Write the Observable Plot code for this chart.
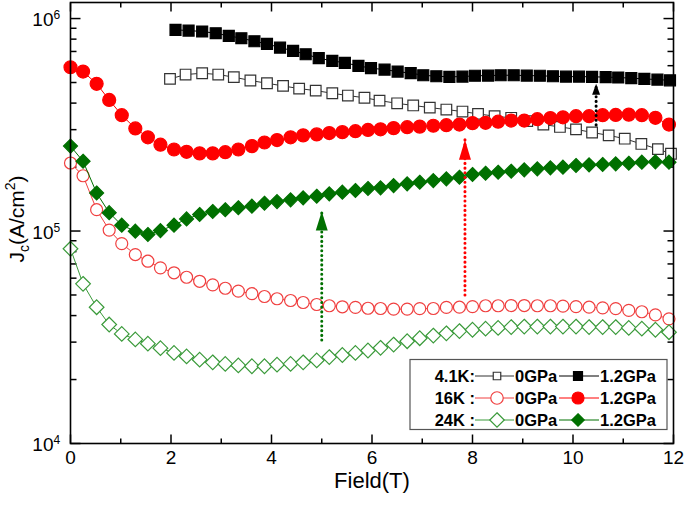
<!DOCTYPE html>
<html><head><meta charset="utf-8">
<script src="https://cdn.jsdelivr.net/npm/d3@7"></script>
<script src="https://cdn.jsdelivr.net/npm/@observablehq/plot@0.6"></script>
<style>body{margin:0;background:#fff}#chart svg{display:block}</style>
</head><body><div id="chart"></div>
<script>
// Field grid (T) shared by the 16K and 24K series
const fieldGrid = [0,0.25,0.52,0.77,1.02,1.29,1.54,1.79,2.06,2.31,2.57,2.83,3.08,3.34,3.61,3.86,4.11,4.38,4.63,4.9,5.15,5.41,5.67,5.92,6.17,6.43,6.7,6.95,7.22,7.48,7.74,8.0,8.26,8.51,8.77,9.03,9.29,9.55,9.8,10.06,10.32,10.59,10.85,11.11,11.37,11.64,11.91];
const jc16k_0 = [2.09e5,1.82e5,1.26e5,1.01e5,8.73e4,7.75e4,7.21e4,6.71e4,6.36e4,6.06e4,5.80e4,5.58e4,5.38e4,5.21e4,5.07e4,4.92e4,4.80e4,4.71e4,4.61e4,4.51e4,4.45e4,4.40e4,4.37e4,4.33e4,4.32e4,4.29e4,4.29e4,4.31e4,4.32e4,4.37e4,4.38e4,4.41e4,4.45e4,4.45e4,4.46e4,4.46e4,4.45e4,4.45e4,4.43e4,4.41e4,4.38e4,4.35e4,4.31e4,4.23e4,4.17e4,4.03e4,3.86e4];
const jc16k_12 = [5.90e5,5.63e5,4.93e5,4.14e5,3.51e5,3.04e5,2.76e5,2.55e5,2.42e5,2.36e5,2.32e5,2.32e5,2.35e5,2.42e5,2.51e5,2.61e5,2.68e5,2.76e5,2.82e5,2.85e5,2.89e5,2.92e5,2.95e5,2.99e5,3.01e5,3.05e5,3.08e5,3.10e5,3.13e5,3.15e5,3.17e5,3.22e5,3.23e5,3.27e5,3.31e5,3.31e5,3.36e5,3.40e5,3.43e5,3.47e5,3.47e5,3.51e5,3.52e5,3.53e5,3.51e5,3.41e5,3.17e5];
const jc24k_0 = [8.25e4,5.64e4,4.38e4,3.63e4,3.28e4,3.09e4,2.95e4,2.81e4,2.67e4,2.57e4,2.48e4,2.41e4,2.37e4,2.33e4,2.31e4,2.31e4,2.35e4,2.37e4,2.41e4,2.46e4,2.55e4,2.61e4,2.67e4,2.74e4,2.82e4,2.92e4,3.03e4,3.13e4,3.22e4,3.30e4,3.38e4,3.43e4,3.47e4,3.50e4,3.53e4,3.55e4,3.55e4,3.55e4,3.55e4,3.55e4,3.53e4,3.53e4,3.53e4,3.50e4,3.47e4,3.43e4,3.34e4];
const jc24k_12 = [2.51e5,2.13e5,1.51e5,1.22e5,1.065e5,9.98e4,9.63e4,1.005e5,1.065e5,1.14e5,1.196e5,1.236e5,1.259e5,1.287e5,1.309e5,1.351e5,1.376e5,1.402e5,1.433e5,1.458e5,1.497e5,1.523e5,1.551e5,1.585e5,1.597e5,1.637e5,1.668e5,1.697e5,1.728e5,1.760e5,1.791e5,1.845e5,1.871e5,1.891e5,1.912e5,1.941e5,1.962e5,1.984e5,1.997e5,2.034e5,2.049e5,2.056e5,2.071e5,2.085e5,2.108e5,2.117e5,2.108e5];
// 4.1K series
const field41k_0 = [1.98,2.29,2.62,2.94,3.25,3.58,3.91,4.23,4.55,4.88,5.21,5.52,5.85,6.15,6.5,6.82,7.15,7.48,7.8,8.11,8.44,8.77,9.09,9.41,9.74,10.06,10.38,10.71,11.03,11.36,11.69,11.95];
const jc41k_0 = [5.20e5,5.45e5,5.53e5,5.45e5,5.30e5,5.11e5,4.96e5,4.82e5,4.68e5,4.58e5,4.45e5,4.34e5,4.24e5,4.11e5,3.99e5,3.90e5,3.81e5,3.73e5,3.65e5,3.56e5,3.47e5,3.41e5,3.29e5,3.17e5,3.09e5,3.01e5,2.91e5,2.82e5,2.72e5,2.57e5,2.43e5,2.31e5];
const field41k_12 = [2.09,2.35,2.62,2.89,3.15,3.4,3.66,3.91,4.17,4.43,4.68,4.94,5.21,5.46,5.73,5.98,6.25,6.51,6.77,7.02,7.28,7.54,7.8,8.05,8.31,8.56,8.82,9.08,9.34,9.6,9.86,10.12,10.38,10.65,10.9,11.16,11.42,11.68,11.93];
const jc41k_12 = [8.85e5,8.78e5,8.69e5,8.53e5,8.29e5,8.08e5,7.82e5,7.60e5,7.30e5,7.05e5,6.79e5,6.51e5,6.32e5,6.19e5,5.99e5,5.84e5,5.75e5,5.63e5,5.53e5,5.41e5,5.35e5,5.32e5,5.33e5,5.38e5,5.39e5,5.41e5,5.41e5,5.39e5,5.38e5,5.35e5,5.33e5,5.33e5,5.32e5,5.30e5,5.28e5,5.24e5,5.20e5,5.16e5,5.12e5];
// dotted arrows
const arrowField = [5, 7.85, 10.46];
const arrowFrom = [3.05e4, 4.97e4, 3.14e5];
const arrowTo = [1.236e5, 2.69e5, 4.93e5];
// ticks
const xTickLabels = [0,2,4,6,8,10,12];
const xMinorTicks = [1,3,5,7,9,11];
const yTickExps = [4,5,6];
const yMinorTicks = [2e4,3e4,4e4,5e4,6e4,7e4,8e4,9e4,2e5,3e5,4e5,5e5,6e5,7e5,8e5,9e5];
const legendRows = ["4.1K:", "16K :", "24K :"];
const legendPressures = ["0GPa", "1.2GPa"];

const toRows = (xs, ys) => xs.map((x, i) => ({x, y: ys[i]}));

const series = [
  {data: toRows(field41k_0, jc41k_0), color: "#333333", symbol: "square", fill: "white", r: 6.0, row: 0, p: 0},
  {data: toRows(fieldGrid, jc16k_0), color: "#f04040", symbol: "circle", fill: "white", r: 6.0, row: 1, p: 0},
  {data: toRows(fieldGrid, jc24k_0), color: "#3a9a3a", symbol: "diamond2", fill: "white", r: 6.6, row: 2, p: 0},
  {data: toRows(field41k_12, jc41k_12), color: "#000000", symbol: "square", fill: "#000000", r: 6.2, row: 0, p: 1},
  {data: toRows(fieldGrid, jc16k_12), color: "#ff0000", symbol: "circle", fill: "#ff0000", r: 6.5, row: 1, p: 1},
  {data: toRows(fieldGrid, jc24k_12), color: "#007000", symbol: "diamond2", fill: "#007000", r: 6.3, row: 2, p: 1}
];
const arrowColors = ["#007000", "#ff0000", "#000000"];
const arrowHeads = [[12, 19], [12, 20], [8, 11]];

const seg = (dx, dy) => ({draw(ctx) { ctx.moveTo(0, 0); ctx.lineTo(dx, dy); }});
const head = (w, h) => ({draw(ctx) { ctx.moveTo(0, 0); ctx.lineTo(-w / 2, h); ctx.lineTo(w / 2, h); ctx.closePath(); }});

const FONT = "'Liberation Sans', Arial, sans-serif";
const marks = [];
marks.push(
  Plot.dot(xTickLabels, {x: d => d, frameAnchor: "bottom", symbol: seg(0, -9), stroke: "black", fill: "none", strokeWidth: 1.5}),
  Plot.dot(xMinorTicks, {x: d => d, frameAnchor: "bottom", symbol: seg(0, -5), stroke: "black", fill: "none", strokeWidth: 1.5}),
  Plot.dot(xTickLabels, {x: d => d, frameAnchor: "top", symbol: seg(0, 9), stroke: "black", fill: "none", strokeWidth: 1.5}),
  Plot.dot(xMinorTicks, {x: d => d, frameAnchor: "top", symbol: seg(0, 5), stroke: "black", fill: "none", strokeWidth: 1.5}),
  Plot.dot(yTickExps, {y: d => 10 ** d, frameAnchor: "left", symbol: seg(10, 0), stroke: "black", fill: "none", strokeWidth: 1.5}),
  Plot.dot(yMinorTicks, {y: d => d, frameAnchor: "left", symbol: seg(6, 0), stroke: "black", fill: "none", strokeWidth: 1.5}),
  Plot.dot(yTickExps, {y: d => 10 ** d, frameAnchor: "right", symbol: seg(-10, 0), stroke: "black", fill: "none", strokeWidth: 1.5}),
  Plot.dot(yMinorTicks, {y: d => d, frameAnchor: "right", symbol: seg(-6, 0), stroke: "black", fill: "none", strokeWidth: 1.5})
);
for (const s of series) {
  marks.push(Plot.line(s.data, {x: "x", y: "y", stroke: s.color, strokeWidth: 1}));
  marks.push(Plot.dot(s.data, {x: "x", y: "y", symbol: s.symbol, r: s.r, fill: s.fill, stroke: s.color, strokeWidth: 1.2}));
}
arrowField.forEach((f, i) => {
  const d = [{x: f, y1: arrowFrom[i], y2: arrowTo[i]}];
  marks.push(Plot.ruleX(d, {x: "x", y1: "y1", y2: "y2", stroke: arrowColors[i], strokeWidth: 3, strokeDasharray: "0.1 4.6", strokeLinecap: "round"}));
  marks.push(Plot.dot(d, {x: "x", y: "y2", symbol: head(arrowHeads[i][0], arrowHeads[i][1]), fill: arrowColors[i], stroke: "none"}));
});
marks.push(
  Plot.text(xTickLabels, {x: d => d, frameAnchor: "bottom", dy: 20.5, text: d => String(d), fontSize: 19, fill: "black"}),
  Plot.text(yTickExps, {y: d => 10 ** d, frameAnchor: "left", dx: -17, dy: 1.5, textAnchor: "end", text: () => "10", fontSize: 19, fill: "black"}),
  Plot.text(yTickExps, {y: d => 10 ** d, frameAnchor: "left", dx: -17, dy: -3, textAnchor: "start", text: d => String(d), fontSize: 12, fill: "black"}),
  Plot.text(["Field(T)"], {frameAnchor: "bottom", dy: 44, text: d => d, fontSize: 22, fill: "black"}),
  Plot.frame({stroke: "black", strokeWidth: 1.6})
);

const chart = Plot.plot({
  width: 685, height: 505,
  marginLeft: 70, marginRight: 12, marginTop: 2, marginBottom: 62,
  x: {domain: [0, 12], axis: null},
  y: {type: "log", domain: [1e4, 1.19e6], axis: null},
  style: {fontFamily: FONT, color: "black", background: "white", overflow: "visible"},
  marks
});
document.getElementById("chart").appendChild(chart);

const svg = d3.select(chart);
// y-axis title with sub/superscript
const yt = svg.append("text")
  .attr("transform", "translate(24,219) rotate(-90)")
  .attr("text-anchor", "middle")
  .style("font-family", FONT)
  .style("font-size", "21px").attr("fill", "black");
yt.append("tspan").text("J");
yt.append("tspan").attr("dy", 5).style("font-size", "14px").text("c");
yt.append("tspan").attr("dy", -5).text("(A/cm");
yt.append("tspan").attr("dy", -9).style("font-size", "14px").text("2");
yt.append("tspan").attr("dy", 9).text(")");

// legend
const lg = svg.append("g").style("font-family", FONT)
  .style("font-size", "16.5px").style("font-weight", "bold").attr("fill", "black");
lg.append("rect").attr("x", 410).attr("y", 359.5).attr("width", 257).attr("height", 70)
  .attr("fill", "white").attr("stroke", "#555").attr("stroke-width", 1.2);
const rowY = [376, 398, 420];
const legendSize = {square: [7.5, 9], circle: [12.5, 12], diamond2: [14.5, 12.5]};
legendRows.forEach((lab, r) => {
  const y = rowY[r];
  lg.append("text").attr("x", 475).attr("y", y).attr("dy", "0.36em").attr("text-anchor", "end").text(lab);
  [0, 1].forEach(p => {
    const s = series.find(t => t.row === r && t.p === p);
    const x0 = p === 0 ? 475 : 559, x1 = p === 0 ? 514 : 599, xm = p === 0 ? 497 : 578;
    lg.append("line").attr("x1", x0).attr("x2", x1).attr("y1", y).attr("y2", y).attr("stroke", s.color).attr("stroke-width", 1);
    const dim = legendSize[s.symbol][p];
    let sym, size;
    if (s.symbol === "square") { sym = d3.symbolSquare; size = dim * dim; }
    else if (s.symbol === "circle") { sym = d3.symbolCircle; size = Math.PI * (dim / 2) ** 2; }
    else { sym = d3.symbolDiamond2; size = (dim / 2 / 0.62625) ** 2; }
    lg.append("path").attr("transform", `translate(${xm},${y})`).attr("d", d3.symbol(sym, size)())
      .attr("fill", s.fill).attr("stroke", s.color).attr("stroke-width", 1.2);
    lg.append("text").attr("x", p === 0 ? 515 : 600).attr("y", y).attr("dy", "0.36em")
      .attr("text-anchor", "start").text(legendPressures[p]);
  });
});
</script>
</body></html>
